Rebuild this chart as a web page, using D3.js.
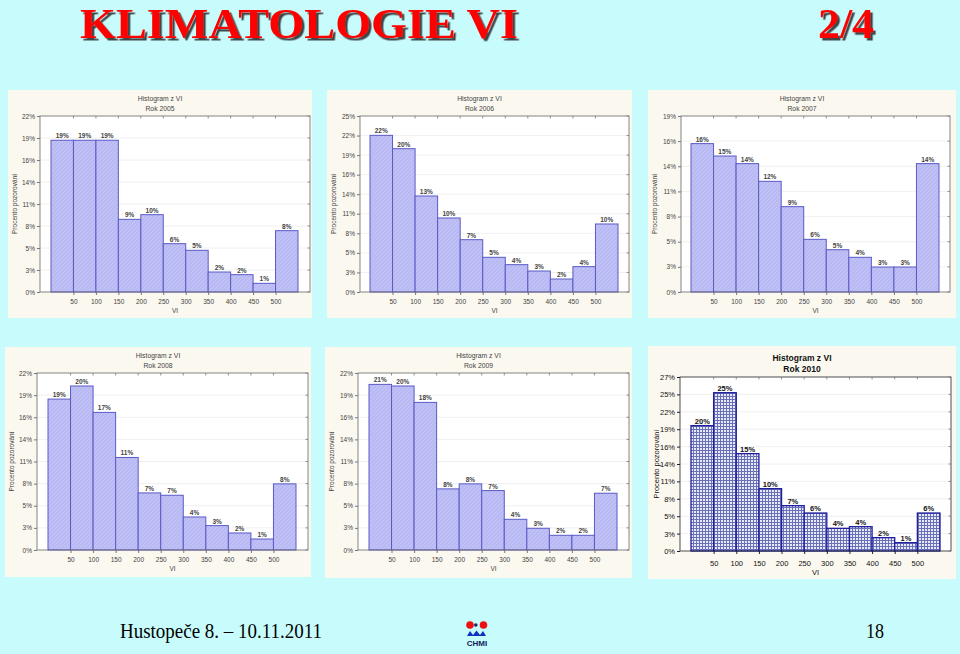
<!DOCTYPE html>
<html><head><meta charset="utf-8">
<script src="https://cdn.jsdelivr.net/npm/d3@7"></script>
<style>html,body{margin:0;padding:0;background:#c8fcfc;}svg{display:block;}</style>
</head><body>
<script>
// ---------- DATA ----------
const binStarts = [0, 50, 100, 150, 200, 250, 300, 350, 400, 450, 500];
const xTickLabels = [50, 100, 150, 200, 250, 300, 350, 400, 450, 500];
const tickStep = 2.74; // percent per y tick
const years = ["2005", "2006", "2007", "2008", "2009", "2010"];
const v2005 = [18.9, 18.9, 18.9, 9.05, 9.63, 6.02, 5.19, 2.49, 2.16, 1.08, 7.64];
const v2006 = [21.95, 20.08, 13.45, 10.37, 7.33, 4.86, 3.83, 2.94, 1.82, 3.55, 9.53];
const v2007 = [16.17, 14.82, 13.99, 12.06, 9.30, 5.74, 4.61, 3.78, 2.72, 2.72, 13.99];
const v2008 = [18.69, 20.31, 17.04, 11.46, 7.07, 6.78, 4.09, 3.02, 2.11, 1.36, 8.19];
const v2009 = [20.51, 20.31, 18.28, 7.57, 8.19, 7.36, 3.80, 2.69, 1.82, 1.82, 7.03];
const v2010 = [19.74, 24.93, 15.33, 9.82, 7.14, 5.98, 3.57, 3.83, 2.10, 1.31, 5.98];
const yt2005 = ["0%","3%","5%","8%","11%","14%","16%","19%","22%"];
const yt2006 = ["0%","3%","5%","8%","11%","14%","16%","19%","22%","25%"];
const yt2007 = ["0%","3%","5%","8%","11%","14%","16%","19%"];
const yt2008 = ["0%","3%","5%","8%","11%","14%","16%","19%","22%"];
const yt2009 = ["0%","3%","5%","8%","11%","14%","16%","19%","22%"];
const yt2010 = ["0%","3%","5%","8%","11%","14%","16%","19%","22%","25%","27%"];
const values = [v2005, v2006, v2007, v2008, v2009, v2010];
const yTicks = [yt2005, yt2006, yt2007, yt2008, yt2009, yt2010];

// ---------- LAYOUT ----------
const layout = [
  {panel:[8,90,304,228],  plot:[40,310,116,292],  bars:[51,298],  fs:6.5, big:false},
  {panel:[327,90,305,228],plot:[360,629,116,292], bars:[370,618], fs:6.5, big:false},
  {panel:[648,90,308,228],plot:[681,950,116,292], bars:[691,939], fs:6.5, big:false},
  {panel:[5,347,306,230], plot:[37,308,373,550],  bars:[48,296],  fs:6.5, big:false},
  {panel:[325,347,307,231],plot:[358,629,373,550],bars:[369,617], fs:6.5, big:false},
  {panel:[648,346,308,233],plot:[680,951,377,551],bars:[691,940], fs:7.5, big:true}
];

const W = 960, H = 654;
const svg = d3.select("body").append("svg").attr("width", W).attr("height", H);
svg.append("rect").attr("width", W).attr("height", H).attr("fill", "#c8fcfc");

const defs = svg.append("defs");
const pat = defs.append("pattern").attr("id","grid10").attr("patternUnits","userSpaceOnUse")
  .attr("width",3).attr("height",3);
pat.append("rect").attr("width",3).attr("height",3).attr("fill","#e8eaf8");
pat.append("path").attr("d","M0,0.5H3M0.5,0V3").attr("stroke","#6a70b8").attr("stroke-width",1);
const pat2 = defs.append("pattern").attr("id","hatch").attr("patternUnits","userSpaceOnUse")
  .attr("width",4).attr("height",4);
pat2.append("rect").attr("width",4).attr("height",4).attr("fill","#b9b9f3");
pat2.append("path").attr("d","M0,4L4,0").attr("stroke","#c6c6f6").attr("stroke-width",0.8);

const shadow = defs.append("filter").attr("id","sh").attr("x","-5%").attr("y","-5%").attr("width","115%").attr("height","130%");
shadow.append("feDropShadow").attr("dx",2.5).attr("dy",2.5).attr("stdDeviation",0.6).attr("flood-color","#303030").attr("flood-opacity",0.9);

// ---------- HEADER ----------
svg.append("text").attr("x",80).attr("y",37.5).attr("font-family","Liberation Serif, serif")
  .attr("font-weight","bold").attr("font-size",42).attr("fill","#ff0000")
  .attr("textLength",438).attr("lengthAdjust","spacingAndGlyphs").attr("filter","url(#sh)")
  .text("KLIMATOLOGIE VI");
svg.append("text").attr("x",818).attr("y",37.5).attr("font-family","Liberation Serif, serif")
  .attr("font-weight","bold").attr("font-size",42).attr("fill","#ff0000")
  .attr("textLength",56).attr("lengthAdjust","spacingAndGlyphs").attr("filter","url(#sh)")
  .text("2/4");

// ---------- CHARTS ----------
values.forEach((vals, k) => {
  const L = layout[k];
  const g = svg.append("g");
  const [px, py, pw, ph] = L.panel;
  const [l, r, t, b] = L.plot;
  const nT = yTicks[k].length - 1;
  const ink = L.big ? "#111" : "#444";
  g.append("rect").attr("x",px).attr("y",py).attr("width",pw).attr("height",ph).attr("fill","#fbf8f0");
  g.append("rect").attr("x",l).attr("y",t).attr("width",r-l).attr("height",b-t).attr("fill","#ffffff");

  const x = d3.scaleLinear().domain([0, 550]).range(L.bars);
  const y = d3.scaleLinear().domain([0, nT * tickStep]).range([b, t]);
  const tv = d3.range(nT + 1).map(i => i * tickStep);

  g.append("g").selectAll("line").data(tv.slice(1, -1)).join("line")
    .attr("x1", l).attr("x2", r).attr("y1", d => y(d)).attr("y2", d => y(d))
    .attr("stroke", "#ececec").attr("stroke-width", 0.8);

  g.append("g").selectAll("rect").data(vals).join("rect")
    .attr("x", (d, i) => x(binStarts[i]))
    .attr("width", (d, i) => x(binStarts[i] + 50) - x(binStarts[i]))
    .attr("y", d => y(d)).attr("height", d => b - y(d))
    .attr("fill", L.big ? "url(#grid10)" : "url(#hatch)")
    .attr("stroke", L.big ? "#1f1f9e" : "#5a5ac6")
    .attr("stroke-width", L.big ? 1.3 : 1);

  g.append("g").selectAll("text").data(vals).join("text")
    .attr("x", (d, i) => x(binStarts[i] + 25)).attr("y", d => y(d) - 2)
    .attr("text-anchor", "middle").attr("font-family", "Liberation Sans, Arial, sans-serif")
    .attr("font-weight", "bold").attr("font-size", L.fs).attr("fill", ink)
    .text(d => Math.round(d) + "%");

  g.append("rect").attr("x",l).attr("y",t).attr("width",r-l).attr("height",b-t)
    .attr("fill","none").attr("stroke", L.big ? "#222" : "#666").attr("stroke-width",0.8);

  const ya = d3.axisLeft(y).tickValues(tv).tickSize(3).tickPadding(2)
    .tickFormat((d, i) => yTicks[k][i]);
  const yg = g.append("g").attr("transform", `translate(${l},0)`).call(ya);
  const xa = d3.axisBottom(x).tickValues(xTickLabels).tickSize(3).tickPadding(L.big ? 7 : 4)
    .tickFormat(d => d);
  const xg = g.append("g").attr("transform", `translate(0,${b})`).call(xa);
  [yg, xg].forEach(ax => {
    ax.select(".domain").remove();
    ax.selectAll("line").attr("stroke", L.big ? "#222" : "#777");
    ax.selectAll("text").attr("font-family", "Liberation Sans, Arial, sans-serif")
      .attr("font-size", L.fs).attr("fill", ink);
  });
  g.append("g").selectAll("line").data(xTickLabels).join("line")
    .attr("x1", d => x(d)).attr("x2", d => x(d)).attr("y1", t).attr("y2", t + 2.5)
    .attr("stroke", "#777").attr("stroke-width", 0.8);
  g.append("g").selectAll("line").data(tv).join("line")
    .attr("x1", r).attr("x2", r - 2.5).attr("y1", d => y(d)).attr("y2", d => y(d))
    .attr("stroke", "#777").attr("stroke-width", 0.8);

  const cx = px + pw / 2;
  const tfs = L.big ? 8.5 : 6.8;
  g.append("text").attr("x", cx).attr("y", L.big ? py + 15 : py + 10.5)
    .attr("text-anchor","middle").attr("font-family","Liberation Sans, Arial, sans-serif")
    .attr("font-weight", L.big ? "bold" : "normal").attr("font-size", tfs).attr("fill", ink)
    .text("Histogram z VI");
  g.append("text").attr("x", cx).attr("y", L.big ? py + 26 : py + 20.5)
    .attr("text-anchor","middle").attr("font-family","Liberation Sans, Arial, sans-serif")
    .attr("font-weight", L.big ? "bold" : "normal").attr("font-size", tfs).attr("fill", ink)
    .text("Rok " + years[k]);
  g.append("text").attr("transform", `translate(${px + (L.big ? 11 : 9)},${(t + b) / 2}) rotate(-90)`)
    .attr("text-anchor","middle").attr("font-family","Liberation Sans, Arial, sans-serif")
    .attr("font-size", L.fs).attr("fill", ink).text("Procento pozorování");
  g.append("text").attr("x", (l + r) / 2).attr("y", b + (L.big ? 24 : 21))
    .attr("text-anchor","middle").attr("font-family","Liberation Sans, Arial, sans-serif")
    .attr("font-size", L.fs).attr("fill", ink).text("VI");
});

// ---------- FOOTER ----------
svg.append("text").attr("x",120).attr("y",638).attr("font-family","Liberation Serif, serif")
  .attr("font-size",21).attr("fill","#000").attr("textLength",202).attr("lengthAdjust","spacingAndGlyphs")
  .text("Hustopeče 8. – 10.11.2011");
svg.append("text").attr("x",866).attr("y",638).attr("font-family","Liberation Serif, serif")
  .attr("font-size",21).attr("fill","#000").attr("textLength",18).attr("lengthAdjust","spacingAndGlyphs")
  .text("18");
const logo = svg.append("g");
logo.append("circle").attr("cx",470).attr("cy",625).attr("r",3.8).attr("fill","#ee1111");
logo.append("circle").attr("cx",483.5).attr("cy",625).attr("r",3.8).attr("fill","#ee1111");
logo.append("circle").attr("cx",475.8).attr("cy",625).attr("r",1.8).attr("fill","#222266");
logo.append("path").attr("d","M467,636 L470,631 L473,635 L476.5,630.5 L480,635 L483,631 L486,636 Z").attr("fill","#1030c0");
logo.append("text").attr("x",477).attr("y",646).attr("text-anchor","middle")
  .attr("font-family","Liberation Sans, Arial, sans-serif").attr("font-weight","bold")
  .attr("font-size",8).attr("fill","#102060").text("CHMI");
</script>
</body></html>
